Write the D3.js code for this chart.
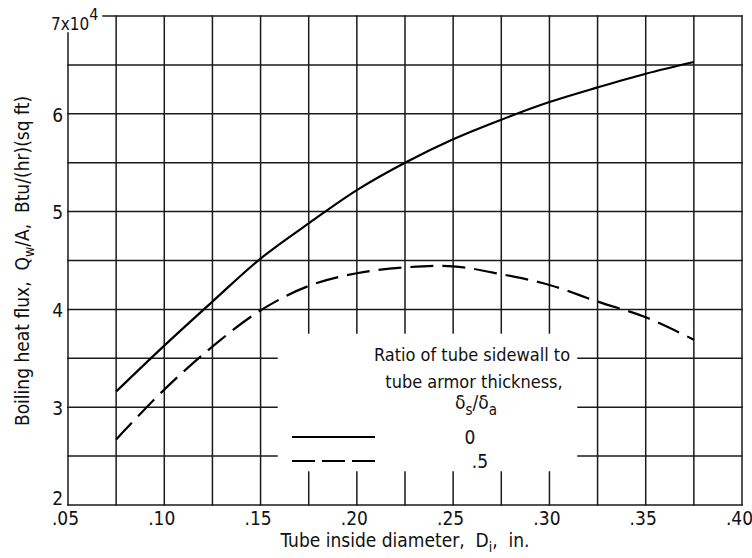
<!DOCTYPE html>
<html><head><meta charset="utf-8">
<script src="https://cdn.jsdelivr.net/npm/d3@7"></script>
<style>
body{margin:0;background:#fff}
svg{display:block}
text{font-family:"Liberation Sans Narrow","Arial Narrow","DejaVu Sans Condensed",sans-serif;fill:#111;white-space:pre}
</style>
</head><body>
<svg id="c" width="752" height="558"></svg>
<script>
// ---- data ----
const diameters = [0.075,0.100,0.125,0.150,0.175,0.200,0.225,0.250,0.275,0.300,0.325,0.350,0.375];
const fluxRatio0  = [3.16,3.63,4.08,4.52,4.88,5.22,5.50,5.74,5.94,6.12,6.27,6.41,6.53];
const fluxRatio05 = [2.67,3.18,3.62,3.99,4.24,4.37,4.43,4.44,4.36,4.25,4.08,3.92,3.69];
const xTickValues = [0.05,0.10,0.15,0.20,0.25,0.30,0.35,0.40];
const xTickLabels = [".05",".10",".15",".20",".25",".30",".35",".40"];
const yTickValues = [2,3,4,5,6];
const yTickLabels = ["2","3","4","5","6"];
const xGridValues = [0.05,0.075,0.10,0.125,0.15,0.175,0.20,0.225,0.25,0.275,0.30,0.325,0.35,0.375,0.40];
const yGridValues = [2,2.5,3,3.5,4,4.5,5,5.5,6,6.5,7];
const legendRatios = ["0",".5"];

// ---- layout ----
const FONT = '"Liberation Sans Narrow","Arial Narrow","DejaVu Sans Condensed",sans-serif';
const svg = d3.select("#c");
const L=68, R=742, T=16, B=505;
const x = d3.scaleLinear().domain([0.05,0.40]).range([L,R]);
const y = d3.scaleLinear().domain([2,7]).range([B,T]);
const box = {l:277, r:578, t:333, b:472};

const g = svg.append("g");
const segs = [];
xGridValues.forEach(v=>{
  const px = x(v);
  const top = (v===0.05) ? 33 : T;
  if (px>box.l && px<box.r) { segs.push([px,top,px,box.t]); segs.push([px,box.b,px,B]); }
  else segs.push([px,top,px,B]);
});
yGridValues.forEach(v=>{
  const py = y(v);
  const left = (v===7) ? 103 : L;
  if (py>box.t && py<box.b) { segs.push([left,py,box.l,py]); segs.push([box.r,py,R,py]); }
  else segs.push([left,py,R,py]);
});
g.selectAll("line.grid").data(segs).join("line").attr("class","grid")
  .attr("x1",d=>d[0]).attr("y1",d=>d[1]).attr("x2",d=>d[2]).attr("y2",d=>d[3])
  .attr("stroke","#1a1a1a").attr("stroke-width",1.5).attr("stroke-linecap","square");

// ---- curves ----
const line = d3.line().x(d=>x(d[0])).y(d=>y(d[1])).curve(d3.curveCatmullRom.alpha(0.5));
svg.append("path").datum(diameters.map((d,i)=>[d,fluxRatio0[i]]))
  .attr("d",line).attr("fill","none").attr("stroke","#000").attr("stroke-width",2.2);
svg.append("path").datum(diameters.map((d,i)=>[d,fluxRatio05[i]]))
  .attr("d",line).attr("fill","none").attr("stroke","#000").attr("stroke-width",2.2)
  .attr("stroke-dasharray","23,9");

// ---- axes labels ----
const xAxis = d3.axisBottom(x).tickValues(xTickValues).tickSize(0).tickPadding(7)
  .tickFormat((d,i)=>xTickLabels[i]);
const xa = svg.append("g").attr("transform",`translate(-3,${B})`).call(xAxis);
xa.select(".domain").remove();
xa.selectAll("text").attr("font-size",19).attr("fill","#111").style("font-family",FONT);

const yAxis = d3.axisLeft(y).tickValues(yTickValues).tickSize(0).tickPadding(5)
  .tickFormat((d,i)=>yTickLabels[i]);
const ya = svg.append("g").attr("transform",`translate(${L},0)`).call(yAxis);
ya.select(".domain").remove();
ya.selectAll("text").attr("font-size",19).attr("fill","#111").style("font-family",FONT)
  .attr("dy",(d)=> d===2 ? "-0.05em" : "0.38em");

const top7 = svg.append("text").attr("x",51).attr("y",30).attr("font-size",17);
top7.append("tspan").text("7x10");
top7.append("tspan").attr("dy",-10).attr("font-size",16).text("4");

// y title
const yt = svg.append("text").attr("transform","translate(29,261) rotate(-90)")
  .attr("text-anchor","middle").attr("font-size",19);
yt.append("tspan").text("Boiling heat flux,  Q");
yt.append("tspan").attr("dy",5).attr("font-size",14).text("w");
yt.append("tspan").attr("dy",-5).text("/A,  Btu/(hr)(sq ft)");

// x title
const xt = svg.append("text").attr("x",405).attr("y",547).attr("text-anchor","middle").attr("font-size",19);
xt.append("tspan").text("Tube inside diameter,  D");
xt.append("tspan").attr("dy",5).attr("font-size",14).text("i");
xt.append("tspan").attr("dy",-5).text(",  in.");

// ---- legend ----
const lg = svg.append("g");
lg.append("text").attr("x",472).attr("y",361).attr("text-anchor","middle").attr("font-size",18)
  .text("Ratio of tube sidewall to");
lg.append("text").attr("x",474).attr("y",388).attr("text-anchor","middle").attr("font-size",18)
  .text("tube armor thickness,");
const dl = lg.append("text").attr("x",476).attr("y",409).attr("text-anchor","middle").attr("font-size",19);
dl.append("tspan").text("δ");
dl.append("tspan").attr("dy",6).attr("font-size",15).text("s");
dl.append("tspan").attr("dy",-6).text("/δ");
dl.append("tspan").attr("dy",6).attr("font-size",15).text("a");

const legendY = [437,461];
lg.selectAll("line.leg").data(legendRatios).join("line").attr("class","leg")
  .attr("x1",292).attr("x2",375).attr("y1",(d,i)=>legendY[i]).attr("y2",(d,i)=>legendY[i])
  .attr("stroke","#000").attr("stroke-width",2.2)
  .attr("stroke-dasharray",(d,i)=> i===0 ? null : "23,7");
lg.selectAll("text.lv").data(legendRatios).join("text").attr("class","lv")
  .attr("x",(d,i)=> i===0 ? 470 : 480).attr("y",(d,i)=>legendY[i]+7)
  .attr("text-anchor","middle").attr("font-size",19).text(d=>d);
</script>
</body></html>
